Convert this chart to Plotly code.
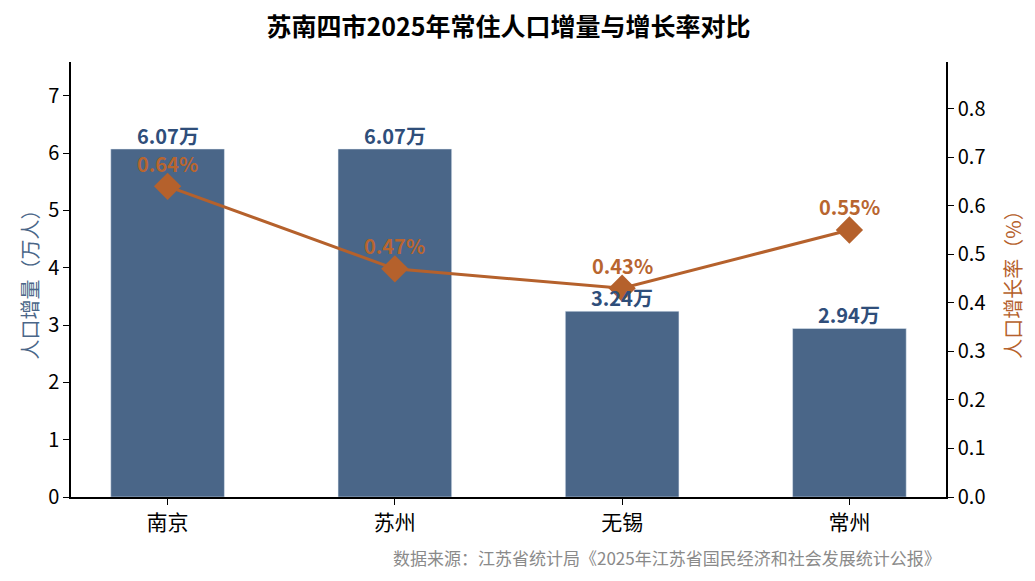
import plotly.graph_objects as go

# 苏南四市 2025 年常住人口增量与增长率
cities = ["南京", "苏州", "无锡", "常州"]
increase = [6.07, 6.07, 3.24, 2.94]      # 万人
growth_rate = [0.64, 0.47, 0.43, 0.55]   # %

font_family = "Noto Sans CJK SC"
bar_color = "#4A6688"
line_color = "#B5612C"

fig = go.Figure()

fig.add_trace(go.Bar(
    x=cities, y=increase,
    marker_color=bar_color, width=0.5,
    showlegend=False,
))

fig.add_trace(go.Scatter(
    x=cities, y=growth_rate, yaxis="y2",
    mode="lines+markers",
    line=dict(color=line_color, width=3),
    marker=dict(symbol="diamond", size=21, color=line_color),
    cliponaxis=False,
    showlegend=False,
))

# value labels
for c, v in zip(cities, increase):
    fig.add_annotation(x=c, y=v, yref="y", text=f"<b>{v:.2f}万</b>", showarrow=False,
                       yanchor="middle", yshift=14,
                       font=dict(size=20, color="#2F4E7A", family=font_family))
for c, v in zip(cities, growth_rate):
    fig.add_annotation(x=c, y=v, yref="y2", text=f"<b>{v:.2f}%</b>", showarrow=False,
                       yanchor="middle", yshift=23,
                       font=dict(size=20, color="#B8652F", family=font_family))

# page has an 8px body margin, so the figure is a bit smaller than the window
fig.update_layout(
    width=1027, height=573,
    margin=dict(l=63, r=89, t=54, b=84),
    plot_bgcolor="white", paper_bgcolor="white",
    font=dict(family=font_family, size=20, color="black"),
    title=dict(text="<b>苏南四市2025年常住人口增量与增长率对比</b>", xref="paper",
               x=0.5, xanchor="center", y=0.967, yanchor="middle", font=dict(size=25)),
    xaxis=dict(range=[-0.425, 3.425], showline=True, linecolor="black", linewidth=1.5,
               ticks="outside", ticklen=6, tickcolor="black", tickfont=dict(size=21)),
    yaxis=dict(range=[0, 6.07 * 1.25], dtick=1, showgrid=False, zeroline=False,
               showline=True, linecolor="black", linewidth=1.5,
               ticks="outside", ticklen=6, tickcolor="black",
               title=dict(text="人口增量（万人）", font=dict(color=bar_color, size=20), standoff=4)),
    yaxis2=dict(range=[0, 0.64 * 1.4], dtick=0.1, tickformat=".1f", overlaying="y", side="right",
                showgrid=False, zeroline=False,
                showline=True, linecolor="black", linewidth=1.5,
                ticks="outside", ticklen=6, tickcolor="black",
                title=dict(text="人口增长率（%）", font=dict(color=line_color, size=20), standoff=22)),
)

fig.add_annotation(
    text="数据来源：江苏省统计局《2025年江苏省国民经济和社会发展统计公报》",
    xref="paper", yref="paper", x=0.996, y=-0.138, xanchor="right", yanchor="middle",
    showarrow=False, font=dict(size=17, color="#8A8A8A"),
)

fig.write_html("out.html")
